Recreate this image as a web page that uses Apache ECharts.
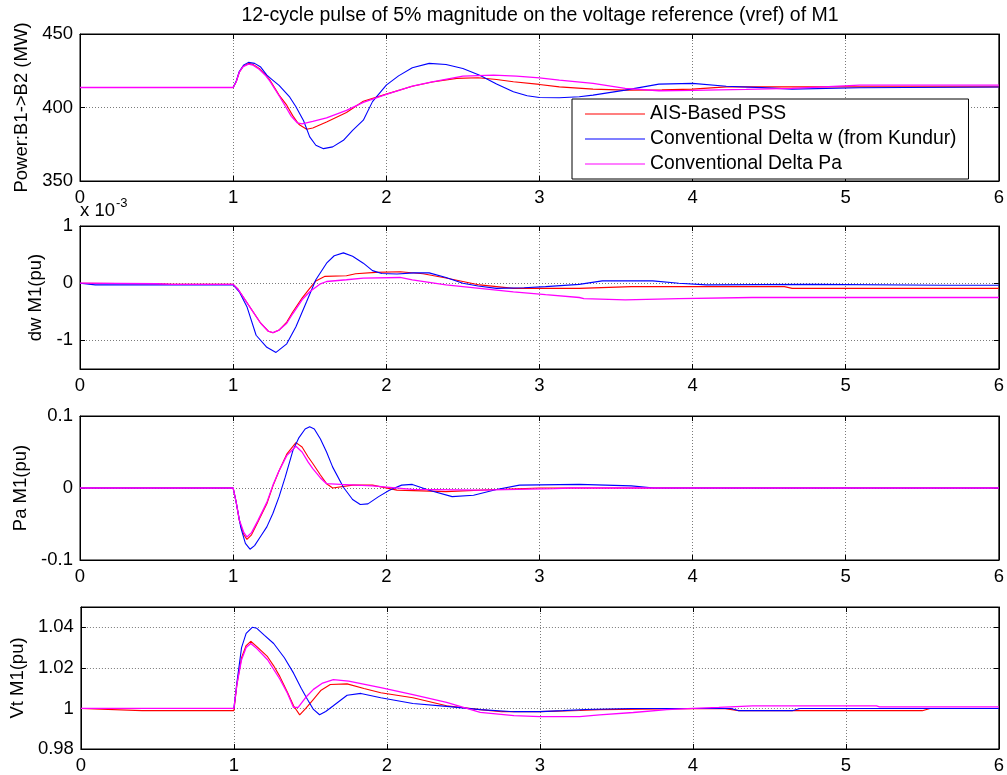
<!DOCTYPE html>
<html><head><meta charset="utf-8">
<script src="https://cdn.jsdelivr.net/npm/echarts@6/dist/echarts.min.js"></script>
<style>html,body{margin:0;padding:0;background:#fff}#c{width:1007px;height:775px}</style>
</head><body><div id="c"></div>
<script>
// ---------- DATA ----------
const titleText = '12-cycle pulse of 5% magnitude on the voltage reference (vref) of M1';
const seriesNames = ['AIS-Based PSS', 'Conventional Delta w (from Kundur)', 'Conventional Delta Pa'];
const seriesColors = ['#ff0000', '#0000ff', '#ff00ff'];
const xTicks = [0, 1, 2, 3, 4, 5, 6];
const yNames = ['Power:B1->B2 (MW)', 'dw M1(pu)', 'Pa M1(pu)', 'Vt M1(pu)'];
const yRanges = [[350, 450], [-1.5, 1], [-0.1, 0.1], [0.98, 1.05]];
const yTicks = [[350, 400, 450], [-1, 0, 1], [-0.1, 0, 0.1], [0.98, 1, 1.02, 1.04]];
const dwScaleLabel = 'x 10';
const dwScaleExp = '-3';

// Panel 1: Power B1->B2 (MW)  [t, value]
const powerAIS = [[0,413.6],[1,413.6],[1.02,417.5],[1.04,424],[1.065,428],[1.10,430],[1.13,429.2],[1.17,426.6],[1.21,422.5],[1.24,418.6],[1.27,413.5],[1.30,408.4],[1.35,401.6],[1.39,394.3],[1.43,388.4],[1.48,385.2],[1.52,386.1],[1.61,390.2],[1.74,396.6],[1.85,404.3],[2.0,409.1],[2.17,414.5],[2.3,417.3],[2.46,419.8],[2.6,420.2],[2.72,419],[2.83,417.5],[3.0,415.7],[3.13,414],[3.35,412.5],[3.56,411.8],[3.8,412],[4.0,412.5],[4.22,414],[4.5,414],[5.0,414],[6,414]];
const powerDw = [[0,413.6],[1,413.6],[1.02,417.8],[1.04,424.5],[1.07,429],[1.10,430.7],[1.14,430],[1.18,427.5],[1.22,422],[1.26,418.5],[1.30,415],[1.37,407],[1.41,400.5],[1.46,391],[1.50,380],[1.54,374.3],[1.59,372],[1.65,373.2],[1.72,377.7],[1.78,384.5],[1.85,391.4],[1.91,404],[2.0,415.2],[2.08,421.5],[2.17,427],[2.28,430],[2.39,429.3],[2.5,426.5],[2.61,422],[2.72,416],[2.83,410.7],[2.92,408],[3.0,406.8],[3.13,406.6],[3.26,407.3],[3.35,408.4],[3.56,411.8],[3.78,415.9],[4.0,416.4],[4.22,414.5],[4.45,413.5],[4.65,412.5],[5.09,413.4],[6,413.9]];
const powerPa = [[0,413.6],[1,413.6],[1.02,417.5],[1.04,424],[1.065,427.8],[1.10,429.5],[1.13,428.8],[1.17,426],[1.21,422],[1.24,418],[1.27,413],[1.30,408],[1.34,401],[1.38,394],[1.42,389.5],[1.45,388.9],[1.52,390.5],[1.61,393],[1.74,398],[1.85,403.5],[2.0,409],[2.17,414.5],[2.3,417.5],[2.5,421.4],[2.7,422],[2.85,421.3],[3.0,420.2],[3.13,418.6],[3.35,416.4],[3.56,413],[3.78,411.4],[4.0,411.6],[4.35,412.3],[4.65,413],[5.09,415.2],[6,415.2]];

// Panel 2: dw M1 (pu, in units of 1e-3)
const dwAIS = [[0,0],[0.5,-0.01],[0.6,-0.02],[1.0,-0.02],[1.03,-0.1],[1.065,-0.24],[1.13,-0.5],[1.18,-0.7],[1.23,-0.84],[1.26,-0.865],[1.30,-0.82],[1.35,-0.68],[1.39,-0.5],[1.45,-0.26],[1.50,-0.09],[1.54,0.04],[1.60,0.12],[1.74,0.13],[1.80,0.165],[1.93,0.19],[2.09,0.2],[2.24,0.165],[2.39,0.09],[2.61,-0.03],[2.83,-0.09],[3.26,-0.09],[3.6,-0.06],[4.6,-0.06],[4.65,-0.09],[6,-0.09]];
const dwDw = [[0,0],[0.1,-0.03],[1.0,-0.03],[1.04,-0.15],[1.09,-0.41],[1.15,-0.91],[1.22,-1.12],[1.28,-1.21],[1.35,-1.06],[1.41,-0.76],[1.48,-0.32],[1.54,0.06],[1.61,0.35],[1.66,0.48],[1.72,0.53],[1.78,0.47],[1.85,0.35],[1.91,0.22],[1.97,0.17],[2.07,0.16],[2.18,0.18],[2.28,0.18],[2.39,0.1],[2.5,0],[2.6,-0.05],[2.72,-0.09],[2.9,-0.08],[3.04,-0.06],[3.26,-0.02],[3.41,0.04],[3.74,0.04],[3.91,0],[4.09,-0.03],[4.78,-0.02],[5.65,-0.035],[6,-0.035]];
const dwPa = [[0,0],[0.5,-0.01],[0.6,-0.02],[1.0,-0.02],[1.03,-0.1],[1.065,-0.24],[1.13,-0.5],[1.18,-0.7],[1.23,-0.84],[1.26,-0.865],[1.30,-0.82],[1.35,-0.7],[1.39,-0.53],[1.45,-0.29],[1.50,-0.15],[1.57,-0.01],[1.61,0.03],[1.74,0.06],[1.85,0.09],[2.09,0.1],[2.17,0.06],[2.39,-0.03],[2.61,-0.09],[2.83,-0.15],[3.04,-0.2],[3.26,-0.25],[3.29,-0.27],[3.56,-0.29],[3.91,-0.27],[4.39,-0.25],[6,-0.25]];

// Panel 3: Pa M1 (pu)
const paAIS = [[0,0],[1.0,0],[1.02,-0.02],[1.04,-0.045],[1.07,-0.065],[1.09,-0.0714],[1.12,-0.065],[1.16,-0.048],[1.22,-0.022],[1.26,0.003],[1.30,0.024],[1.35,0.047],[1.41,0.063],[1.45,0.057],[1.49,0.043],[1.52,0.034],[1.57,0.018],[1.61,0.006],[1.65,0],[1.78,0.004],[1.91,0.004],[2.07,-0.003],[2.39,-0.005],[2.72,-0.002],[3,0],[6,0]];
const paDw = [[0,0],[1,0],[1.02,-0.02],[1.05,-0.055],[1.08,-0.077],[1.11,-0.085],[1.14,-0.08],[1.18,-0.067],[1.22,-0.054],[1.26,-0.035],[1.30,-0.012],[1.34,0.015],[1.39,0.052],[1.43,0.07],[1.47,0.082],[1.50,0.085],[1.53,0.082],[1.57,0.068],[1.61,0.05],[1.65,0.029],[1.72,0.001],[1.78,-0.016],[1.83,-0.023],[1.88,-0.022],[1.95,-0.012],[2.02,-0.003],[2.1,0.004],[2.17,0.005],[2.28,-0.003],[2.43,-0.012],[2.57,-0.01],[2.72,-0.002],[2.87,0.004],[3.26,0.005],[3.6,0.003],[3.75,0],[6,0]];
const paPa = [[0,0],[1,0],[1.02,-0.02],[1.04,-0.044],[1.07,-0.062],[1.09,-0.068],[1.12,-0.062],[1.16,-0.046],[1.22,-0.02],[1.26,0.004],[1.30,0.024],[1.35,0.045],[1.41,0.058],[1.45,0.05],[1.49,0.036],[1.52,0.027],[1.57,0.014],[1.61,0.006],[1.70,0.005],[1.91,0.003],[2.17,-0.002],[2.61,-0.003],[3.1,-0.001],[3.2,0],[6,0]];

// Panel 4: Vt M1 (pu)
const vtAIS = [[0,1],[0.4,0.9989],[1.0,0.9989],[1.02,1.012],[1.05,1.025],[1.08,1.031],[1.11,1.0331],[1.15,1.0305],[1.22,1.0255],[1.26,1.021],[1.30,1.0158],[1.35,1.008],[1.39,1.0013],[1.43,0.9968],[1.47,1.0],[1.52,1.0045],[1.57,1.009],[1.63,1.0118],[1.74,1.0121],[1.85,1.0098],[1.96,1.0077],[2.17,1.0053],[2.39,1.0013],[2.61,0.9994],[2.75,0.9984],[3.0,0.9984],[3.26,0.999],[3.39,0.9994],[3.8,0.9997],[4.2,1.0],[4.3,0.9989],[5.5,0.9989],[5.55,1.0],[6,1.0]];
const vtDw = [[0,1],[1,1],[1.02,1.013],[1.05,1.03],[1.08,1.037],[1.12,1.04],[1.15,1.0395],[1.2,1.036],[1.26,1.032],[1.33,1.025],[1.39,1.0174],[1.44,1.01],[1.48,1.0045],[1.52,0.9995],[1.56,0.9969],[1.60,0.9985],[1.65,1.0013],[1.74,1.0065],[1.83,1.0074],[1.96,1.0053],[2.17,1.0024],[2.39,1.001],[2.61,0.9994],[2.83,0.9984],[3.0,0.9984],[3.15,0.9989],[3.3,0.9995],[3.6,1.0],[4.25,1.0],[4.3,0.9989],[4.65,0.9989],[4.7,1.0],[6,1.0]];
const vtPa = [[0,1],[1,1],[1.02,1.012],[1.05,1.024],[1.08,1.03],[1.11,1.032],[1.15,1.0295],[1.22,1.024],[1.30,1.0145],[1.35,1.0075],[1.39,1.0005],[1.42,1.0005],[1.47,1.0055],[1.52,1.0094],[1.58,1.0125],[1.65,1.0142],[1.75,1.0135],[1.96,1.0102],[2.17,1.0068],[2.39,1.003],[2.61,0.9981],[2.83,0.9965],[3.0,0.996],[3.26,0.996],[3.39,0.9968],[3.61,0.998],[3.83,0.9994],[4.0,1.0],[4.17,1.0005],[4.39,1.0013],[5.2,1.0013],[5.22,1.0008],[6,1.0008]];

const panelData = [
  [powerAIS, powerDw, powerPa],
  [dwAIS, dwDw, dwPa],
  [paAIS, paDw, paPa],
  [vtAIS, vtDw, vtPa]
];

// ---------- LAYOUT ----------
const FONT = 'Liberation Sans, Arial, Helvetica, sans-serif';
const FS = 18.5;
const gridBoxes = [
  {top: 34, height: 147},
  {top: 226, height: 143},
  {top: 416, height: 144},
  {top: 607, height: 145}
];
const nameGaps = [43, 29, 46, 48];
const lineWidths = [1.1, 1.1, 1.3];
const gridLine = {show: true, lineStyle: {color: '#7a7a7a', type: [1, 2], width: 1}};
const blackLine = {show: true, onZero: false, lineStyle: {color: '#000', width: 1}};
const tickStyle = {show: true, inside: true, length: 5, lineStyle: {color: '#000'}};

const grids = [], xAxes = [], yAxes = [], series = [];
gridBoxes.forEach((g, i) => {
  grids.push({left: 80, width: 921, top: g.top, height: g.height, show: true,
    borderColor: '#000', borderWidth: 1, backgroundColor: 'transparent'});
  xAxes.push({gridIndex: i, type: 'value', position: 'bottom', min: 0, max: 6, interval: 1,
    axisLine: blackLine, axisTick: tickStyle,
    axisLabel: {show: true, color: '#000', fontSize: FS, fontFamily: FONT, margin: 7,
      customValues: xTicks, formatter: v => String(v)},
    splitLine: gridLine});
  xAxes.push({gridIndex: i, type: 'value', position: 'top', min: 0, max: 6, interval: 1,
    axisLine: blackLine, axisTick: tickStyle,
    axisLabel: {show: false}, splitLine: {show: false}});
  yAxes.push({gridIndex: i, type: 'value', position: 'left', min: yRanges[i][0], max: yRanges[i][1],
    name: yNames[i], nameLocation: 'middle', nameGap: nameGaps[i],
    nameTextStyle: {color: '#000', fontSize: FS, fontFamily: FONT},
    axisLine: blackLine,
    axisTick: Object.assign({}, tickStyle, {customValues: yTicks[i]}),
    axisLabel: {show: true, color: '#000', fontSize: FS, fontFamily: FONT, margin: 7, customValues: yTicks[i],
      formatter: v => String(+v.toFixed(4))},
    splitLine: gridLine});
  yAxes.push({gridIndex: i, type: 'value', position: 'right', min: yRanges[i][0], max: yRanges[i][1],
    axisLine: blackLine,
    axisTick: Object.assign({}, tickStyle, {customValues: yTicks[i]}),
    axisLabel: {show: false, customValues: yTicks[i]}, splitLine: {show: false}});

  panelData[i].forEach((d, k) => {
    series.push({
      type: 'line', name: seriesNames[k], xAxisIndex: 2 * i, yAxisIndex: 2 * i,
      data: d, symbol: 'none', showSymbol: false, smooth: false,
      lineStyle: {color: seriesColors[k], width: lineWidths[k]}, itemStyle: {color: seriesColors[k]},
      z: 3 + k, silent: true
    });
  });
});

const option = {
  animation: false,
  backgroundColor: '#fff',
  grid: grids,
  xAxis: xAxes,
  yAxis: yAxes,
  series: series,
  legend: {
    data: seriesNames.map((n, k) => ({name: n, icon: 'rect', itemStyle: {color: seriesColors[k]}})),
    orient: 'vertical', left: 572, top: 99,
    backgroundColor: '#fff', borderColor: '#000', borderWidth: 1,
    padding: [4, 12, 4, 13], itemGap: 3, itemWidth: 60, itemHeight: 1.2,
    textStyle: {color: '#000', fontSize: 19.3, fontFamily: FONT, lineHeight: 22},
    selectedMode: false, z: 10
  },
  graphic: [
    {type: 'text', x: 540, y: 16, z: 10,
      style: {text: titleText, fill: '#000', fontSize: 19.5, fontFamily: FONT,
        align: 'center', verticalAlign: 'middle', textAlign: 'center', textVerticalAlign: 'middle'}},
    {type: 'text', x: 80, y: 211, z: 10,
      style: {text: dwScaleLabel, fill: '#000', fontSize: FS, fontFamily: FONT,
        align: 'left', verticalAlign: 'middle', textAlign: 'left', textVerticalAlign: 'middle'}},
    {type: 'text', x: 116, y: 203, z: 10,
      style: {text: dwScaleExp, fill: '#000', fontSize: 13, fontFamily: FONT,
        align: 'left', verticalAlign: 'middle', textAlign: 'left', textVerticalAlign: 'middle'}}
  ]
};
const chart = echarts.init(document.getElementById('c'), null, {renderer: 'canvas'});
chart.setOption(option);
</script>
</body></html>
